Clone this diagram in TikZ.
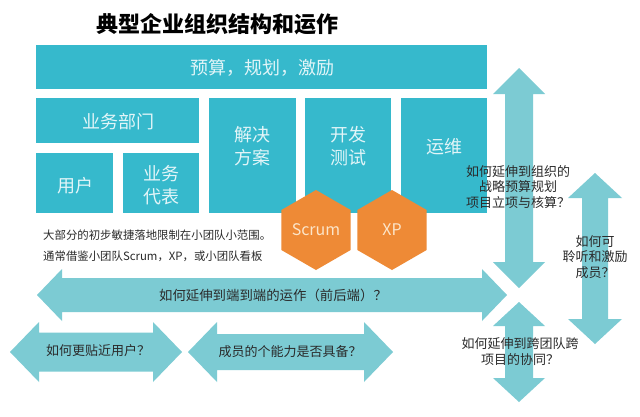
\documentclass[tikz,border=0pt]{standalone}
\usepackage{fontspec}
\setmainfont{Noto Sans CJK SC}
\usetikzlibrary{shapes.geometric}
\definecolor{boxc}{HTML}{36B9CC}
\definecolor{arrc}{HTML}{7CCBD3}
\definecolor{orng}{HTML}{EE8A36}
\definecolor{boxtxt}{HTML}{E2F5F8}
\definecolor{hextxt}{HTML}{FCE5C9}
\definecolor{darktxt}{HTML}{2A2A2A}
% horizontal double arrow: x1, x2, yc, shaft half, head half, head length
\newcommand\hdarrow[6]{%
  \fill[arrc] (#1,#3) -- (#1+#6,#3-#5) -- (#1+#6,#3-#4) -- (#2-#6,#3-#4) -- (#2-#6,#3-#5) -- (#2,#3)
   -- (#2-#6,#3+#5) -- (#2-#6,#3+#4) -- (#1+#6,#3+#4) -- (#1+#6,#3+#5) -- cycle;}
% vertical double arrow: y1, y2, xc, shaft half, head half, head length
\newcommand\vdarrow[6]{%
  \fill[arrc] (#3,#1) -- (#3-#5,#1+#6) -- (#3-#4,#1+#6) -- (#3-#4,#2-#6) -- (#3-#5,#2-#6) -- (#3,#2)
   -- (#3+#5,#2-#6) -- (#3+#4,#2-#6) -- (#3+#4,#1+#6) -- (#3+#5,#1+#6) -- cycle;}
\begin{document}
\begin{tikzpicture}[x=1pt,y=-1pt,
  boxst/.style={fill=boxc, inner sep=0pt, outer sep=0pt},
  boxtext/.style={text=boxtxt, align=center, inner sep=0pt, font=\fontsize{18}{23}\selectfont},
  hexst/.style={regular polygon, regular polygon sides=6, shape border rotate=30, minimum size=80, inner sep=0pt, fill=orng, text=hextxt, font=\fontsize{16}{18}\selectfont},
  qtext/.style={text=darktxt, align=center, inner sep=0pt, font=\fontsize{13}{15.5}\selectfont},
  note/.style={text=darktxt, anchor=west, inner sep=0pt, font=\fontsize{11.4}{13}\selectfont}]
\useasboundingbox (0,0) rectangle (640,416);
\fill[white] (0,0) rectangle (640,416);

% title
\node[inner sep=0pt, font=\fontsize{22}{24}\selectfont\bfseries] (title) at (217,24) {典型企业组织结构和运作};

% boxes
\node[boxst, minimum width=451, minimum height=44] (top) at (261.5,67) {};
\node[boxst, minimum width=163, minimum height=45] (dept) at (117.5,120.5) {};
\node[boxst, minimum width=77, minimum height=60] (user) at (74.5,183) {};
\node[boxst, minimum width=76, minimum height=60] (rep) at (161,183) {};
\node[boxst, minimum width=87, minimum height=115] (sol) at (252.5,155.5) {};
\node[boxst, minimum width=86, minimum height=115] (dev) at (348,155.5) {};
\node[boxst, minimum width=86, minimum height=115] (ops) at (444,155.5) {};

\node[boxtext] (topt) at (262,68) {预算，规划，激励};
\node[boxtext] (deptt) at (118,122) {业务部门};
\node[boxtext] (usert) at (75,186) {用户};
\node[boxtext] (rept) at (161,185) {业务\\代表};
\node[boxtext] (solt) at (252.5,146.5) {解决\\方案};
\node[boxtext] (devt) at (348,146) {开发\\测试};
\node[boxtext] (opst) at (444,147) {运维};

% hexagons
\node[hexst] (scrum) at (316,230) {Scrum};
\node[hexst] (xp) at (392,230) {XP};

% notes
\node[note] (n1) at (43,235) {大部分的初步敏捷落地限制在小团队小范围。};
\node[note] (n2) at (43,256) {通常借鉴小团队Scrum，XP，或小团队看板};

% arrows
\hdarrow{37}{507}{295}{17}{26}{25}
\hdarrow{10}{182}{352}{19.5}{30}{29}
\hdarrow{188}{393}{352}{18}{30}{29}
\vdarrow{68}{288}{519}{14}{26}{26}
\vdarrow{173}{344}{595}{13}{27}{25}
\vdarrow{302}{402}{519}{14}{26}{24}

% arrow labels
\node[qtext] (q1) at (518,187) {如何延伸到组织的\\战略预算规划\\项目立项与核算？};
\node[qtext] (q2) at (595,257) {如何可\\聆听和激励\\成员？};
\node[qtext] (q3) at (520,351.5) {如何延伸到跨团队跨\\项目的协同？};
\node[qtext, font=\fontsize{13.4}{15.5}\selectfont] (q4) at (273,295) {如何延伸到端到端的运作（前后端）？};
\node[qtext] (q5) at (98,351) {如何更贴近用户？};
\node[qtext] (q6) at (290,352) {成员的个能力是否具备？};
\end{tikzpicture}
\end{document}
